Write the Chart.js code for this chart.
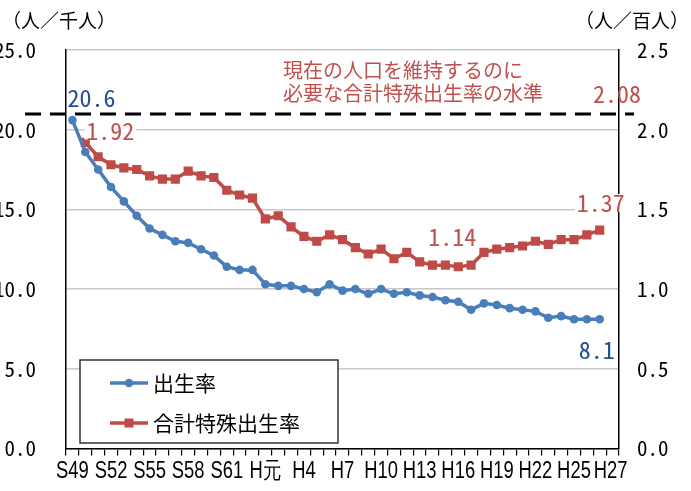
<!DOCTYPE html>
<html>
<head>
<meta charset="utf-8">
<script src="https://cdn.jsdelivr.net/npm/chart.js@4"></script>
<style>
  html, body { margin: 0; padding: 0; background: #fff; }
  #wrap { width: 691px; height: 491px; position: relative; }
</style>
</head>
<body>
<div id="wrap"><canvas id="chart" width="691" height="491"></canvas></div>
<script>
// years S49 (1974) .. H27 (2015), plus one empty slot at the end like the original sheet
const years = [
  'S49','S50','S51','S52','S53','S54','S55','S56','S57','S58','S59','S60','S61','S62','S63',
  'H元','H2','H3','H4','H5','H6','H7','H8','H9','H10','H11','H12','H13','H14','H15',
  'H16','H17','H18','H19','H20','H21','H22','H23','H24','H25','H26','H27',''
];
const shownLabels = ['S49','S52','S55','S58','S61','H元','H4','H7','H10','H13','H16','H19','H22','H25','H27'];

// 出生率 (人／千人)
const birthRate = [
  20.6, 18.6, 17.5, 16.4, 15.5, 14.6, 13.8, 13.4, 13.0, 12.9,
  12.5, 12.1, 11.4, 11.2, 11.2, 10.3, 10.2, 10.2, 10.0, 9.8,
  10.3, 9.9, 10.0, 9.7, 10.0, 9.7, 9.8, 9.6, 9.5, 9.3,
  9.2, 8.7, 9.1, 9.0, 8.8, 8.7, 8.6, 8.2, 8.3, 8.1,
  8.1, 8.1
];

// 合計特殊出生率 (人／百人 axis)
const fertilityRate = [
  null, 1.92, 1.83, 1.78, 1.76, 1.75, 1.71, 1.69, 1.69, 1.74,
  1.71, 1.70, 1.62, 1.59, 1.57, 1.44, 1.46, 1.39, 1.33, 1.30,
  1.34, 1.31, 1.26, 1.22, 1.25, 1.19, 1.23, 1.17, 1.15, 1.15,
  1.14, 1.15, 1.23, 1.25, 1.26, 1.27, 1.30, 1.28, 1.31, 1.31,
  1.34, 1.37
];

const replacementLevel = 2.08;

const BLUE = '#4a7ebb';
const BLUE_TEXT = '#23508f';
const RED = '#be4b48';
const RED_TEXT = '#c0504d';
const monoFont = '"Noto Sans Mono CJK JP", "DejaVu Sans Mono", monospace';
const cjkFont = '"Noto Sans CJK JP", sans-serif';

function textWithBg(ctx, text, x, y, align, color, font, bg) {
  ctx.font = font;
  ctx.textAlign = align;
  ctx.textBaseline = 'middle';
  if (bg) {
    const w = ctx.measureText(text).width;
    const left = align === 'center' ? x - w / 2 : (align === 'right' ? x - w : x);
    ctx.fillStyle = '#fff';
    ctx.fillRect(left - 2, y - 9, w + 4, 18);
  }
  ctx.fillStyle = color;
  ctx.fillText(text, x, y);
}

const extras = {
  id: 'extras',
  afterDraw(chart) {
    const ctx = chart.ctx;
    const x = chart.scales.x, y = chart.scales.y, y2 = chart.scales.y2;
    ctx.save();

    // category labels in a narrow face (horizontally squeezed)
    ctx.font = '23px "Liberation Sans", Arial, sans-serif';
    ctx.fillStyle = '#000';
    ctx.textAlign = 'center';
    ctx.textBaseline = 'middle';
    const lastShown = shownLabels[shownLabels.length - 1];
    years.forEach((l, i) => {
      if (!shownLabels.includes(l)) return;
      // the last label sits a bit to the right, as in the original
      const px = x.getPixelForValue(i) + (l === lastShown ? 11 : 0);
      ctx.save();
      ctx.translate(px, x.bottom - 13);
      ctx.scale(0.8, 1);
      ctx.fillText(l, 0, 0);
      ctx.restore();
    });

    // replacement level dashed line
    const dy = y2.getPixelForValue(replacementLevel) - 3;
    ctx.strokeStyle = '#000';
    ctx.lineWidth = 3;
    ctx.setLineDash([16, 9]);
    ctx.beginPath();
    ctx.moveTo(25, dy);
    ctx.lineTo(634, dy);
    ctx.stroke();
    ctx.setLineDash([]);

    textWithBg(ctx, '現在の人口を維持するのに', 283, dy - 44, 'left', RED_TEXT, '20px ' + cjkFont);
    textWithBg(ctx, '必要な合計特殊出生率の水準', 283, dy - 21, 'left', RED_TEXT, '20px ' + cjkFont);
    textWithBg(ctx, replacementLevel.toFixed(2), 593, dy - 20, 'left', RED_TEXT, '24px ' + monoFont);

    // value labels
    const last = birthRate.length - 1;
    textWithBg(ctx, birthRate[0].toFixed(1), x.getPixelForValue(0) - 5, y.getPixelForValue(birthRate[0]) - 22,
      'left', BLUE_TEXT, '24px ' + monoFont);
    textWithBg(ctx, fertilityRate[1].toFixed(2), x.getPixelForValue(1) + 1, y2.getPixelForValue(fertilityRate[1]) - 12,
      'left', RED_TEXT, '24px ' + monoFont, true);
    textWithBg(ctx, fertilityRate[30].toFixed(2), x.getPixelForValue(30) - 6, y2.getPixelForValue(fertilityRate[30]) - 30,
      'center', RED_TEXT, '24px ' + monoFont);
    textWithBg(ctx, fertilityRate[last].toFixed(2), x.getPixelForValue(last) + 1, y2.getPixelForValue(fertilityRate[last]) - 27,
      'center', RED_TEXT, '24px ' + monoFont, true);
    textWithBg(ctx, birthRate[last].toFixed(1), x.getPixelForValue(last) - 3, y.getPixelForValue(birthRate[last]) + 31,
      'center', BLUE_TEXT, '24px ' + monoFont);

    // axis unit captions
    textWithBg(ctx, '（人／千人）', 2, 21, 'left', '#000', '19px ' + cjkFont);
    textWithBg(ctx, '（人／百人）', 689, 21, 'right', '#000', '19px ' + cjkFont);

    // legend box inside the plot
    ctx.fillStyle = '#fff';
    ctx.fillRect(80, 360, 258, 83);
    ctx.strokeStyle = '#333';
    ctx.lineWidth = 1.5;
    ctx.strokeRect(80, 360, 258, 83);
    const items = [
      { label: chart.data.datasets[0].label, color: BLUE, cy: 383, shape: 'circle' },
      { label: chart.data.datasets[1].label, color: RED, cy: 423, shape: 'rect' }
    ];
    items.forEach(it => {
      ctx.strokeStyle = it.color;
      ctx.lineWidth = 3.5;
      ctx.beginPath();
      ctx.moveTo(110, it.cy);
      ctx.lineTo(148, it.cy);
      ctx.stroke();
      ctx.fillStyle = it.color;
      if (it.shape === 'circle') {
        ctx.beginPath();
        ctx.arc(129, it.cy, 4.3, 0, Math.PI * 2);
        ctx.fill();
      } else {
        ctx.fillRect(124.5, it.cy - 4.5, 9, 9);
      }
      textWithBg(ctx, it.label, 153, it.cy, 'left', '#000', '21px ' + cjkFont);
    });

    ctx.restore();
  }
};

new Chart(document.getElementById('chart'), {
  type: 'line',
  data: {
    labels: years,
    datasets: [
      {
        label: '出生率',
        data: birthRate,
        yAxisID: 'y',
        borderColor: BLUE,
        backgroundColor: BLUE,
        borderWidth: 3.5,
        pointStyle: 'circle',
        pointRadius: 4.3,
        pointBorderWidth: 0,
        tension: 0
      },
      {
        label: '合計特殊出生率',
        data: fertilityRate,
        yAxisID: 'y2',
        borderColor: RED,
        backgroundColor: RED,
        borderWidth: 3.5,
        pointStyle: 'rect',
        pointRadius: 6.5,
        pointBorderWidth: 0,
        tension: 0
      }
    ]
  },
  options: {
    responsive: false,
    animation: false,
    layout: { padding: { top: 50, left: 0, right: 0, bottom: 0 } },
    plugins: {
      legend: { display: false },
      tooltip: { enabled: false }
    },
    scales: {
      x: {
        offset: true,
        grid: { offset: true, drawOnChartArea: false, color: '#000', tickLength: 7, lineWidth: 1.2 },
        border: { color: '#000', width: 1.5 },
        ticks: {
          autoSkip: false,
          maxRotation: 0,
          callback: () => ''
        },
        afterFit: s => { s.height = 36; }
      },
      y: {
        position: 'left',
        min: 0,
        max: 25,
        grid: { color: '#c8c8c8', lineWidth: 1.5, drawTicks: false },
        border: { color: '#000', width: 1.5 },
        ticks: {
          stepSize: 5,
          padding: 30,
          color: '#000',
          font: { family: monoFont, size: 21 },
          callback: v => v.toFixed(1)
        },
        afterFit: s => { s.width = 66; }
      },
      y2: {
        position: 'right',
        min: 0,
        max: 2.5,
        grid: { drawOnChartArea: false, drawTicks: false },
        border: { color: '#000', width: 1.5 },
        ticks: {
          stepSize: 0.5,
          padding: 18,
          color: '#000',
          font: { family: monoFont, size: 21 },
          callback: v => v.toFixed(1)
        },
        afterFit: s => { s.width = 72; }
      }
    }
  },
  plugins: [extras]
});
</script>
</body>
</html>
